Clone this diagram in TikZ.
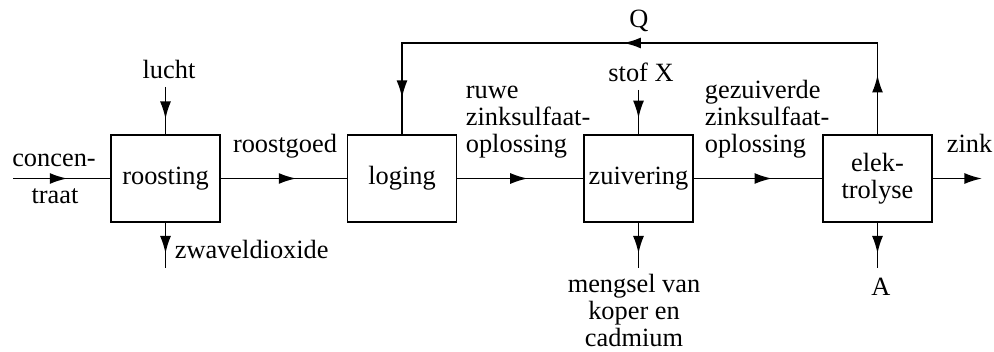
\documentclass[tikz,border=0pt]{standalone}
\usepackage{fontspec}
\setmainfont{Liberation Serif}
\usetikzlibrary{arrows.meta,decorations.markings,positioning}

\begin{document}
\begin{tikzpicture}[x=0.16cm, y=-0.16cm, line width=0.8pt,
    every node/.style={font=\fontsize{12}{12.1}\selectfont},
    unit/.style={draw, minimum width=1.744cm, minimum height=1.392cm, inner sep=0pt, align=center},
    tekst/.style={inner sep=0pt},
    midarr/.style={postaction={decorate},
        decoration={markings, mark=at position #1 with {\arrow{Latex[length=8pt,width=5pt]}}}},
    tip/.style={-{Latex[length=8pt,width=5pt]}}
]
\useasboundingbox (0,0) rectangle (99.4,35.2);
% processing units
\node[unit] (roost) at (16.55, 17.85) {roosting};
\node[unit] (loog) at (40.2, 17.85) {loging};
\node[unit] (zuiv) at (63.85, 17.85) {zuivering};
\node[unit] (elek) at (87.75, 17.85) {elek-\\trolyse};
% free ends
\coordinate (conc) at (1.3, 17.85);
\coordinate (zinkuit) at (98.2, 17.85);
\coordinate (lucht) at (16.55, 8.7);
\coordinate (zwavel) at (16.55, 26.8);
\coordinate (stof) at (63.85, 9.0);
\coordinate (mengsel) at (63.85, 26.8);
\coordinate (auit) at (87.75, 26.8);
\coordinate (qtop) at (64, 4.3);
% main stream
\draw[midarr=0.56] (conc) -- (roost);
\draw[midarr=0.6] (roost) -- (loog);
\draw[midarr=0.56] (loog) -- (zuiv);
\draw[midarr=0.61] (zuiv) -- (elek);
\draw[tip] (elek) -- (zinkuit);
% side streams
\draw[midarr=0.68] (lucht) -- (roost);
\draw[midarr=0.68] (roost) -- (zwavel);
\draw[midarr=0.64] (stof) -- (zuiv);
\draw[midarr=0.68] (zuiv) -- (mengsel);
\draw[midarr=0.68] (elek) -- (auit);
% recycle Q
\draw[postaction={decorate}, decoration={markings,
        mark=at position 0.09 with {\arrow{Latex[length=8pt,width=5pt]}},
        mark=at position 0.525 with {\arrow{Latex[length=8pt,width=5pt]}},
        mark=at position 0.945 with {\arrow{Latex[length=8pt,width=5pt]}}}]
    (elek.north) |- (qtop) -| (loog.north);
% labels
\node[tekst, anchor=base] (luchtlab) at (16.9, 7.9) {lucht};
\node[tekst, anchor=base] (conclab) at (5.4, 16.7) {concen-};
\node[tekst, anchor=base] (traatlab) at (5.5, 20.3) {traat};
\node[tekst, anchor=base] (goedlab) at (28.5, 15.3) {roostgoed};
\node[tekst, anchor=base west] (zwavellab) at (17.4, 25.8) {zwaveldioxide};
\node[tekst, anchor=base west, align=left] (ruwelab) at (46.5, 15.2) {ruwe\\zinksulfaat-\\oplossing};
\node[tekst, anchor=base] (stoflab) at (64.1, 8.2) {stof X};
\node[tekst, anchor=base] (qlab) at (63.9, 2.8) {Q};
\node[tekst, anchor=base west, align=left] (gezlab) at (70.4, 15.2) {gezuiverde\\zinksulfaat-\\oplossing};
\node[tekst, anchor=base west] (zinklab) at (94.6, 15.2) {zink};
\node[tekst, anchor=base] (alab) at (88.1, 29.5) {A};
\node[tekst, anchor=base, align=center] (menglab) at (63.4, 34.6) {mengsel van\\koper en\\cadmium};
\end{tikzpicture}
\end{document}
